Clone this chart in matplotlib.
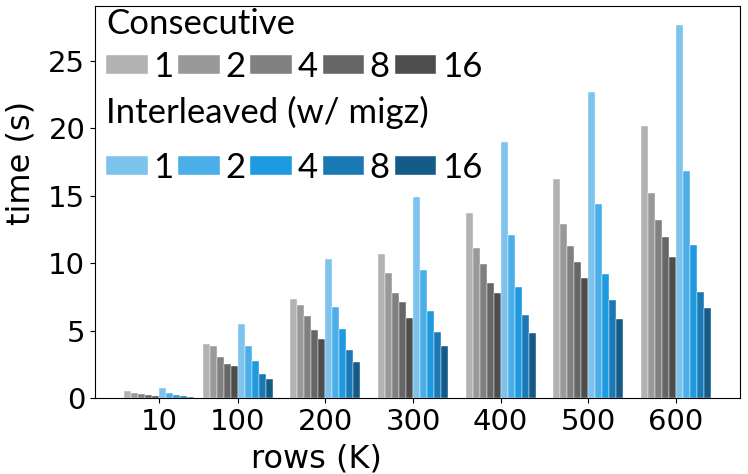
import numpy as np
import matplotlib
matplotlib.use("Agg")
import matplotlib.pyplot as plt

plt.rcParams["font.family"] = ["DejaVu Sans"]

rows = ["10", "100", "200", "300", "400", "500", "600"]
rows_pos = [0.1, 1, 2, 3, 4, 5, 6]
threads = ["1", "2", "4", "8", "16"]

# consecutive, one list per thread count
cons = [
  [0.53, 4.04, 7.32, 10.65, 13.69, 16.23, 20.19],
  [0.39, 3.84, 6.90, 9.25, 11.13, 12.90, 15.20],
  [0.31, 3.05, 6.11, 7.81, 9.96, 11.27, 13.20],
  [0.26, 2.53, 5.02, 7.10, 8.56, 10.09, 11.91],
  [0.19, 2.36, 4.38, 5.94, 7.77, 8.88, 10.46],
]
# interleaved (w/ migz)
inter = [
  [0.75, 5.47, 10.31, 14.87, 18.95, 22.70, 27.67],
  [0.41, 3.86, 6.75, 9.50, 12.11, 14.36, 16.85],
  [0.26, 2.75, 5.10, 6.46, 8.21, 9.20, 11.35],
  [0.16, 1.81, 3.57, 4.90, 6.16, 7.30, 7.89],
  [0.11, 1.42, 2.68, 3.89, 4.83, 5.86, 6.70],
]

grays = ["#b2b2b2", "#999999", "#808080", "#666666", "#4d4d4d"]
blues = ["#7cc3ee", "#4aaee8", "#1e9ae0", "#1a79b3", "#155b87"]

fig = plt.figure(figsize=(7.48, 4.74), dpi=100)
ax = fig.add_axes([0.127, 0.160, 0.862, 0.828])

x = np.array(rows_pos)
w = 0.08
hc = []
hi = []
for i in range(5):
  hc.append(ax.bar(x + (i - 4.5) * w, cons[i], w, color=grays[i],
                   edgecolor="white", linewidth=0.3))
for i in range(5):
  hi.append(ax.bar(x + (i + 0.5) * w, inter[i], w, color=blues[i],
                   edgecolor="white", linewidth=0.3))

ax.set_xlim(-0.63, 6.73)
ax.set_ylim(0, 29.07)
ax.set_xticks(x)
ax.set_xticklabels(rows)
ax.set_yticks([0, 5, 10, 15, 20, 25])
ax.tick_params(labelsize=21)
ax.set_xlabel("rows (K)", fontsize=23)
ax.set_ylabel("time (s)", fontsize=23)
ax.xaxis.set_label_coords(0.344, -0.115)
ax.yaxis.set_label_coords(-0.09, 0.6)

lfont = {"family": "Lato", "size": 25}
kw = dict(ncol=5, frameon=False, prop=lfont, title_fontproperties=lfont,
          handlelength=1.2, handleheight=0.46, handletextpad=0.15,
          columnspacing=0.15, borderpad=0, borderaxespad=0,
          alignment="left", loc="upper left")
leg1 = ax.legend(hc, threads, title="Consecutive",
                 bbox_to_anchor=(0.017, 0.995), labelspacing=0.32, **kw)
ax.add_artist(leg1)
leg2 = ax.legend(hi, threads, title="Interleaved (w/ migz)",
                 bbox_to_anchor=(0.017, 0.77), labelspacing=0.66, **kw)

fig.savefig("out.png")
